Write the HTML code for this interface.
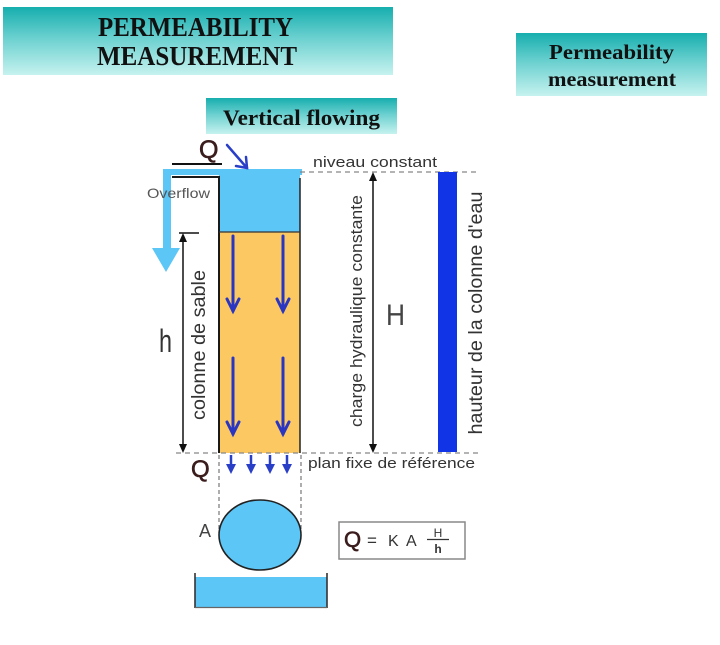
<!DOCTYPE html>
<html>
<head>
<meta charset="utf-8">
<style>
  html,body{margin:0;padding:0;background:#fff;}
  body{width:720px;height:645px;overflow:hidden;}
  svg{display:block;}
</style>
</head>
<body>
<svg width="720" height="645" viewBox="0 0 720 645" xmlns="http://www.w3.org/2000/svg">
  <defs>
    <linearGradient id="tg" x1="0" y1="0" x2="0" y2="1">
      <stop offset="0" stop-color="#17aeae"/>
      <stop offset="0.45" stop-color="#6ad0cf"/>
      <stop offset="1" stop-color="#c6f2ef"/>
    </linearGradient>
  </defs>

  <!-- Title boxes -->
  <rect x="3" y="7" width="390" height="68" fill="url(#tg)"/>
  <text x="98" y="36" font-family="Liberation Serif, serif" font-weight="bold" font-size="27" fill="#111" textLength="195" lengthAdjust="spacingAndGlyphs">PERMEABILITY</text>
  <text x="97" y="65" font-family="Liberation Serif, serif" font-weight="bold" font-size="27" fill="#111" textLength="200" lengthAdjust="spacingAndGlyphs">MEASUREMENT</text>

  <rect x="516" y="33" width="191" height="63" fill="url(#tg)"/>
  <text x="549" y="59" font-family="Liberation Serif, serif" font-weight="bold" font-size="21" fill="#111" textLength="125" lengthAdjust="spacingAndGlyphs">Permeability</text>
  <text x="548" y="86" font-family="Liberation Serif, serif" font-weight="bold" font-size="21" fill="#111" textLength="128" lengthAdjust="spacingAndGlyphs">measurement</text>

  <rect x="206" y="98" width="191" height="36" fill="url(#tg)"/>
  <text x="223" y="125" font-family="Liberation Serif, serif" font-weight="bold" font-size="22" fill="#111" textLength="157" lengthAdjust="spacingAndGlyphs">Vertical flowing</text>

  <!-- Overflow band and arrow -->
  <rect x="163" y="169" width="139" height="6" fill="#5cc6f6"/>
  <rect x="163" y="169" width="8" height="81" fill="#5cc6f6"/>
  <polygon points="152,248 180,248 166,272" fill="#5cc6f6"/>

  <!-- water -->
  <rect x="219" y="169" width="81" height="63" fill="#5cc6f6"/>
  <!-- sand -->
  <rect x="219" y="232" width="81" height="221" fill="#fcc862"/>

  <!-- black outlines -->
  <polyline points="172,177 219,177 219,453" fill="none" stroke="#1a1a1a" stroke-width="2"/>
  <line x1="300" y1="178" x2="300" y2="453" stroke="#222" stroke-width="1.5"/>
  <line x1="219" y1="232" x2="300" y2="232" stroke="#333" stroke-width="1.2"/>

  <!-- top Q -->
  <line x1="172" y1="164" x2="222" y2="164" stroke="#111" stroke-width="2"/>
  <text x="199" y="158" font-family="Liberation Sans, sans-serif" font-size="25" fill="#3a1c1c" stroke="#3a1c1c" stroke-width="0.6">Q</text>
  <g stroke="#2a3fc8" stroke-width="2.5" fill="none" stroke-linecap="round">
    <line x1="227" y1="145" x2="247" y2="168"/>
    <polyline points="236,166 247,168 246,157"/>
  </g>

  <!-- Overflow label -->
  <text x="147" y="198" font-family="Liberation Sans, sans-serif" font-size="14" fill="#555" textLength="63" lengthAdjust="spacingAndGlyphs">Overflow</text>

  <!-- sand arrows -->
  <g stroke="#2a36c2" stroke-width="3" fill="none" stroke-linecap="round">
    <line x1="233" y1="236" x2="233" y2="311"/>
    <polyline points="227,299 233,311 239,299"/>
    <line x1="283" y1="236" x2="283" y2="311"/>
    <polyline points="277,299 283,311 289,299"/>
    <line x1="233" y1="358" x2="233" y2="434"/>
    <polyline points="227,422 233,434 239,422"/>
    <line x1="283" y1="358" x2="283" y2="434"/>
    <polyline points="277,422 283,434 289,422"/>
  </g>

  <!-- h dimension -->
  <line x1="179" y1="233" x2="199" y2="233" stroke="#111" stroke-width="1.5"/>
  <line x1="183" y1="238" x2="183" y2="448" stroke="#111" stroke-width="1.5"/>
  <polygon points="183,233 179,242 187,242" fill="#111"/>
  <polygon points="183,453 179,444 187,444" fill="#111"/>
  <text x="159" y="352" font-family="Liberation Sans, sans-serif" font-size="32" fill="#333" textLength="13" lengthAdjust="spacingAndGlyphs">h</text>
  <text transform="translate(205,345) rotate(-90)" text-anchor="middle" font-family="Liberation Sans, sans-serif" font-size="19" fill="#333" textLength="150" lengthAdjust="spacingAndGlyphs">colonne de sable</text>

  <!-- dashed reference lines -->
  <line x1="300" y1="172" x2="478" y2="172" stroke="#888" stroke-width="1.3" stroke-dasharray="5,4"/>
  <line x1="176" y1="453" x2="478" y2="453" stroke="#888" stroke-width="1.3" stroke-dasharray="5,4"/>
  <text x="313" y="167" font-family="Liberation Sans, sans-serif" font-size="15" fill="#333" textLength="124" lengthAdjust="spacingAndGlyphs">niveau constant</text>

  <!-- H dimension -->
  <line x1="373" y1="177" x2="373" y2="448" stroke="#111" stroke-width="1.5"/>
  <polygon points="373,172 369,181 377,181" fill="#111"/>
  <polygon points="373,453 369,444 377,444" fill="#111"/>
  <text transform="translate(362,311) rotate(-90)" text-anchor="middle" font-family="Liberation Sans, sans-serif" font-size="17" fill="#333" textLength="232" lengthAdjust="spacingAndGlyphs">charge hydraulique constante</text>
  <text x="386" y="325" font-family="Liberation Sans, sans-serif" font-size="30" fill="#444" textLength="19" lengthAdjust="spacingAndGlyphs">H</text>

  <!-- blue bar -->
  <rect x="438" y="172" width="19" height="280" fill="#1034e6"/>
  <text transform="translate(482,313) rotate(-90)" text-anchor="middle" font-family="Liberation Sans, sans-serif" font-size="19" fill="#333" textLength="243" lengthAdjust="spacingAndGlyphs">hauteur de la colonne d'eau</text>

  <!-- bottom Q and arrows -->
  <text x="191" y="477" font-family="Liberation Sans, sans-serif" font-size="24" fill="#3a1c1c" stroke="#3a1c1c" stroke-width="0.6">Q</text>
  <g stroke="#2a3fc8" stroke-width="2.5" fill="#2a3fc8">
    <line x1="231" y1="455" x2="231" y2="466"/>
    <polygon points="226,464 236,464 231,474" stroke="none"/>
    <line x1="251" y1="455" x2="251" y2="466"/>
    <polygon points="246,464 256,464 251,474" stroke="none"/>
    <line x1="270" y1="455" x2="270" y2="466"/>
    <polygon points="265,464 275,464 270,474" stroke="none"/>
    <line x1="287" y1="455" x2="287" y2="466"/>
    <polygon points="282,464 292,464 287,474" stroke="none"/>
  </g>
  <text x="308" y="468" font-family="Liberation Sans, sans-serif" font-size="15" fill="#333" textLength="167" lengthAdjust="spacingAndGlyphs">plan fixe de référence</text>

  <!-- vertical dashed projection -->
  <line x1="219" y1="455" x2="219" y2="533" stroke="#777" stroke-width="1.2" stroke-dasharray="4,3"/>
  <line x1="301" y1="455" x2="301" y2="533" stroke="#777" stroke-width="1.2" stroke-dasharray="4,3"/>

  <!-- ellipse A -->
  <ellipse cx="260" cy="535" rx="41" ry="35" fill="#5cc6f6" stroke="#222" stroke-width="1.6"/>
  <text x="199" y="537" font-family="Liberation Sans, sans-serif" font-size="18" fill="#444">A</text>

  <!-- formula -->
  <rect x="339" y="522" width="126" height="37" fill="#fff" stroke="#888" stroke-width="1.5"/>
  <text x="344" y="547" font-family="Liberation Sans, sans-serif" font-size="22" fill="#3a1c1c" stroke="#3a1c1c" stroke-width="0.6">Q</text>
  <text x="367" y="546" font-family="Liberation Sans, sans-serif" font-size="17" fill="#333">=</text>
  <text x="388" y="546" font-family="Liberation Sans, sans-serif" font-size="16" fill="#333">K</text>
  <text x="406" y="546" font-family="Liberation Sans, sans-serif" font-size="16" fill="#333">A</text>
  <text x="438" y="537" text-anchor="middle" font-family="Liberation Sans, sans-serif" font-size="12" fill="#333">H</text>
  <line x1="427" y1="539.5" x2="449" y2="539.5" stroke="#333" stroke-width="1.2"/>
  <text x="438" y="553" text-anchor="middle" font-family="Liberation Sans, sans-serif" font-size="12" font-weight="bold" fill="#333">h</text>

  <!-- basin -->
  <rect x="195" y="577" width="132" height="30" fill="#5cc6f6"/>
  <line x1="195" y1="573" x2="195" y2="608" stroke="#333" stroke-width="1.6"/>
  <line x1="327" y1="573" x2="327" y2="608" stroke="#333" stroke-width="1.6"/>
  <line x1="195" y1="607.5" x2="327" y2="607.5" stroke="#666" stroke-width="1.2"/>
</svg>
</body>
</html>
